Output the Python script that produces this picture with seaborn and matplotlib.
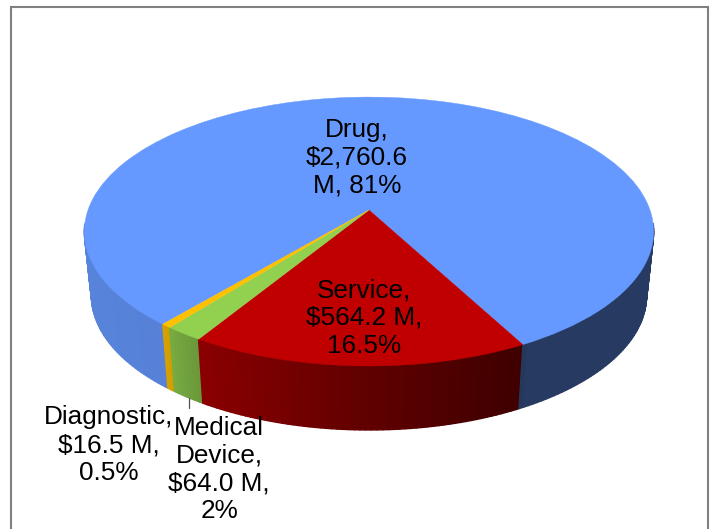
import numpy as np
import matplotlib
matplotlib.use("Agg")
import matplotlib.pyplot as plt
from matplotlib.transforms import Transform
from matplotlib.collections import PolyCollection
import seaborn as sns

# Spending by product type, $M
categories = ["Drug", "Service", "Medical Device", "Diagnostic"]
spending = [2760.6, 564.2, 64.0, 16.5]
slice_labels = ["Drug,\n$2,760.6\nM, 81%",
                "Service,\n$564.2 M,\n16.5%",
                "Medical\nDevice,\n$64.0 M,\n2%",
                "Diagnostic,\n$16.5 M,\n0.5%"]
slice_colors = ["#6699FF", "#C00000", "#92D050", "#FFC000"]

sns.set_theme(style="white")
plt.rcParams["font.family"] = ["Liberation Sans", "DejaVu Sans"]

CX, CY = 369.0, 210.0     # pie centre on the canvas
RX, RY = 281.0, 131.0     # projected radii
TILT = 0.16               # perspective strength
DEPTH = 64.0              # extrusion of the side wall
TAPER = 0.975             # bottom rim shrinks slightly


class TiltedDisc(Transform):
    """Projects the flat unit-circle pie onto a tilted disc seen in perspective."""
    input_dims = output_dims = 2

    def transform_non_affine(self, values):
        values = np.asarray(values, dtype=float)
        w = 1 + TILT * values[:, 1]
        return np.column_stack((CX + RX * values[:, 0] / w,
                                CY - RY * values[:, 1] / w))


def wall_shade(x):
    return np.interp(x, [85, 165, 185, 200, 369, 519, 530, 655],
                     [0.86, 0.84, 0.77, 0.72, 0.50, 0.33, 0.38, 0.38])


fig = plt.figure(figsize=(7.14, 5.29), dpi=100, facecolor="white")
ax = fig.add_axes([0, 0, 1, 1])

wedges, _ = ax.pie(spending, colors=slice_colors, startangle=229.9,
                   counterclock=False, radius=1,
                   wedgeprops={"linewidth": 0.3})
ax.set_aspect("auto")
ax.set_xlim(0, 714)
ax.set_ylim(529, 0)
ax.axis("off")

disc = TiltedDisc()

# Side wall: one thin shaded quad per degree, under the top face.
# The quads run left to right so each one's edge hides the seam before it,
# and the far half of the rim is skipped because it is never visible.
quads, quad_colors, quad_x = [], [], []
for wedge, color in zip(wedges, slice_colors):
    base = np.array(matplotlib.colors.to_rgb(color))
    steps = np.arange(wedge.theta1, wedge.theta2, 1.0)
    steps = np.append(steps, wedge.theta2)
    angles = np.radians(steps)
    rim = disc.transform_non_affine(np.column_stack((np.cos(angles), np.sin(angles))))
    lower = np.column_stack((CX + (rim[:, 0] - CX) * TAPER, rim[:, 1] + DEPTH))
    for i in range(len(rim) - 1):
        if np.sin(angles[i]) > -0.12 and np.sin(angles[i + 1]) > -0.12:
            continue
        mid_x = 0.5 * (rim[i, 0] + rim[i + 1, 0])
        quads.append([rim[i], rim[i + 1], lower[i + 1], lower[i]])
        quad_colors.append(base * wall_shade(mid_x))
        quad_x.append(mid_x)
order = np.argsort(quad_x)
walls = PolyCollection([quads[i] for i in order],
                       facecolors=[quad_colors[i] for i in order],
                       edgecolors=[quad_colors[i] for i in order],
                       linewidths=1.0, zorder=1)
ax.add_collection(walls)

# Top face: the pie wedges pushed through the projection
for wedge, color in zip(wedges, slice_colors):
    wedge.set_transform(disc + ax.transData)
    wedge.set_edgecolor(color)
    wedge.set_zorder(2)

# Chart frame, open past the lower edge of the canvas
ax.plot([11, 11, 708, 708], [540, 7, 7, 540], color="#808080", lw=1.5, zorder=0,
        solid_joinstyle="miter")

# Leader line from the diagnostic slice to its label
ax.plot([189, 189], [398, 408], color="#505050", lw=0.9, zorder=3)

# Slice labels
label_pos = [(357, 158), (364, 318), (219, 469.5), (109, 445)]
for text, (x, y) in zip(slice_labels, label_pos):
    ax.text(x, y, text, ha="center", va="center", fontsize=18.8,
            color="black", linespacing=1.2, zorder=4)

fig.savefig("out.png", dpi=100, facecolor="white")
